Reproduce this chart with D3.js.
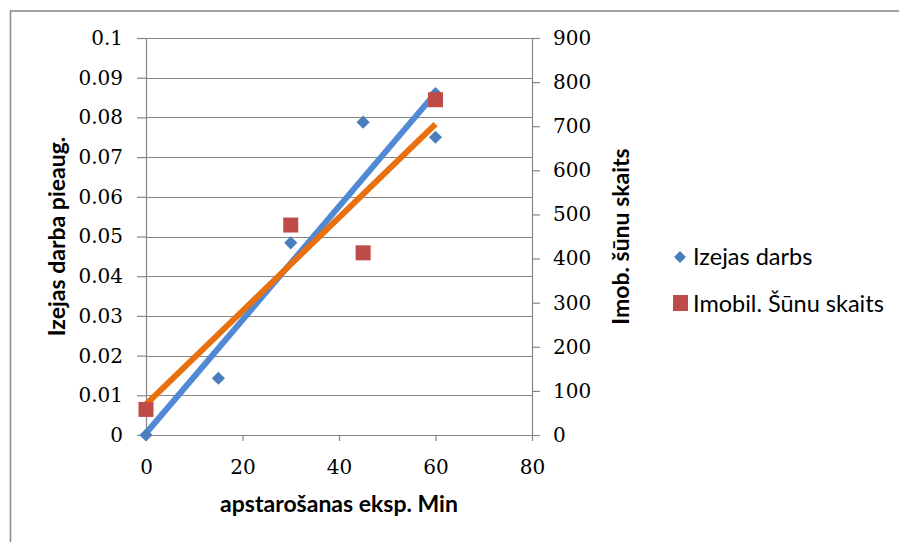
<!DOCTYPE html>
<html>
<head>
<meta charset="utf-8">
<script src="https://cdn.jsdelivr.net/npm/d3@7"></script>
<style>
  body { margin: 0; background: #fff; }
  svg { display: block; }
</style>
</head>
<body>
<script>
// data
var minutes = [0, 15, 30, 45, 60, 60];
var izejasDarbs = [0, 0.0143, 0.0484, 0.0788, 0.086, 0.075];
var minutesImob = [0, 30, 45, 60];
var imobSunas = [58, 476, 413, 760];
var xTicks = [0, 20, 40, 60, 80];
var leftTicks = [0, 0.01, 0.02, 0.03, 0.04, 0.05, 0.06, 0.07, 0.08, 0.09, 0.1];
var rightTicks = [0, 100, 200, 300, 400, 500, 600, 700, 800, 900];
var seriesNames = ["Izejas darbs", "Imobil. Šūnu skaits"];

var width = 899, height = 542;
var margin = {left: 146, right: 367, top: 38, bottom: 107};
var tickFont = "'DejaVu Serif', 'Liberation Serif', serif";
var labelFont = "Lato, 'Open Sans', sans-serif";

var svg = d3.select("body").append("svg")
    .attr("width", width)
    .attr("height", height);

// outer chart border (right/bottom run off the picture)
svg.append("rect")
    .attr("x", 10.5).attr("y", 11)
    .attr("width", 920).attr("height", 560)
    .attr("fill", "none")
    .attr("stroke", "#8c8c8c")
    .attr("stroke-width", 1.6);

var x = d3.scaleLinear().domain([0, 80]).range([margin.left, width - margin.right]);
var yL = d3.scaleLinear().domain([0, 0.1]).range([height - margin.bottom, margin.top]);
var yR = d3.scaleLinear().domain([0, 900]).range([height - margin.bottom, margin.top]);

//gridlines follow the left axis
svg.append("g")
    .selectAll("line")
    .data(leftTicks)
    .enter().append("line")
    .attr("x1", x(0)).attr("x2", x(80))
    .attr("y1", function(d) { return Math.round(yL(d)) + 0.5; })
    .attr("y2", function(d) { return Math.round(yL(d)) + 0.5; })
    .attr("stroke", "#868686")
    .attr("stroke-width", 1.2);

function styleAxis(g) {
    g.select(".domain").attr("stroke", "#868686").attr("stroke-width", 1.2);
    g.selectAll(".tick line").attr("stroke", "#868686").attr("stroke-width", 1.2);
    g.selectAll(".tick text")
        .style("font-family", tickFont)
        .style("font-size", "20px")
        .attr("fill", "#000");
}

svg.append("g")
    .attr("transform", "translate(" + x(0) + ",0)")
    .call(d3.axisLeft(yL).tickValues(leftTicks).tickSize(9).tickSizeOuter(0).tickPadding(14)
        .tickFormat(function(d) { return d3.format("~g")(+d.toFixed(2)); }))
    .call(styleAxis);

svg.append("g")
    .attr("transform", "translate(" + x(80) + ",0)")
    .call(d3.axisRight(yR).tickValues(rightTicks).tickSize(8).tickSizeOuter(0).tickPadding(13))
    .call(styleAxis);

svg.append("g")
    .attr("transform", "translate(0," + yL(0) + ")")
    .call(d3.axisBottom(x).tickValues(xTicks).tickSize(6).tickSizeOuter(0).tickPadding(19))
    .call(styleAxis);

// linear trendlines
function fit(xs, ys) {
    var mx = d3.mean(xs), my = d3.mean(ys);
    var sxy = d3.sum(xs, function(v, i) { return (v - mx) * (ys[i] - my); });
    var sxx = d3.sum(xs, function(v) { return (v - mx) * (v - mx); });
    var b = sxy / sxx;
    return {b: b, a: my - b * mx};
}
var fitL = fit(minutes, izejasDarbs);
var fitR = fit(minutesImob, imobSunas);
var x0 = d3.min(minutes), x1 = d3.max(minutes);

svg.append("line")
    .attr("x1", x(x0)).attr("y1", yL(fitL.a + fitL.b * x0))
    .attr("x2", x(x1)).attr("y2", yL(fitL.a + fitL.b * x1))
    .attr("stroke", "#5189d4").attr("stroke-width", 6);

svg.append("line")
    .attr("x1", x(x0)).attr("y1", yR(fitR.a + fitR.b * x0))
    .attr("x2", x(x1)).attr("y2", yR(fitR.a + fitR.b * x1))
    .attr("stroke", "#e8700e").attr("stroke-width", 6);

// markers
var diamond = d3.symbol().type(d3.symbolDiamond2).size(110);
svg.append("g")
    .selectAll("path")
    .data(minutes)
    .enter().append("path")
    .attr("d", diamond)
    .attr("transform", function(d, i) { return "translate(" + x(d) + "," + yL(izejasDarbs[i]) + ")"; })
    .attr("fill", "#4a7ebb");

svg.append("g")
    .selectAll("rect")
    .data(minutesImob)
    .enter().append("rect")
    .attr("x", function(d) { return x(d) - 7.5; })
    .attr("y", function(d, i) { return yR(imobSunas[i]) - 7.5; })
    .attr("width", 15).attr("height", 15)
    .attr("fill", "#be4b48");

// axis titles
var midY = (yL(0) + yL(0.1)) / 2;
svg.append("text")
    .attr("text-anchor", "middle")
    .attr("transform", "translate(65," + midY + ") rotate(-90)")
    .style("font-family", labelFont).style("font-weight", "bold").style("font-size", "23px")
    .text("Izejas darba pieaug.");

svg.append("text")
    .attr("text-anchor", "middle")
    .attr("transform", "translate(629," + midY + ") rotate(-90)")
    .style("font-family", labelFont).style("font-weight", "bold").style("font-size", "23px")
    .text("Imob. šūnu skaits");

svg.append("text")
    .attr("text-anchor", "middle")
    .attr("x", (x(0) + x(80)) / 2)
    .attr("y", 512)
    .style("font-family", labelFont).style("font-weight", "bold").style("font-size", "23px")
    .text("apstarošanas eksp. Min");

// legend
var lg = svg.append("g").attr("transform", "translate(680,0)");
lg.append("path")
    .attr("d", d3.symbol().type(d3.symbolDiamond2).size(90))
    .attr("transform", "translate(0,257)")
    .attr("fill", "#4a7ebb");
lg.append("rect")
    .attr("x", -7).attr("y", 295)
    .attr("width", 15).attr("height", 16)
    .attr("fill", "#be4b48");
lg.selectAll("text")
    .data(seriesNames)
    .enter().append("text")
    .attr("x", 13)
    .attr("y", function(d, i) { return 265 + i * 47; })
    .style("font-family", labelFont).style("font-size", "23.5px")
    .text(function(d) { return d; });
</script>
</body>
</html>
